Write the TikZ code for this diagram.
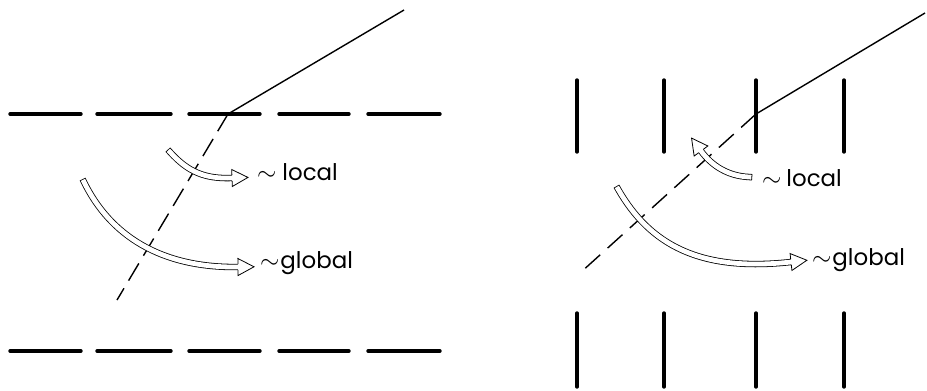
\documentclass[tikz,border=0pt]{standalone}
\usepackage{fontspec}
\setmainfont{Poppins}
\usetikzlibrary{arrows.meta,calc}
\tikzset{
  bound/.style={line width=3.4bp,line cap=round},
  ray/.style={line width=1.4bp},
  refr/.style={ray,dash pattern=on 20bp off #1},
  refr/.default=9bp,
  wide arrow/.style={double=white,double distance=4.8bp,line width=0.8bp,line cap=rect},
  tag/.style={anchor=base west,inner sep=0pt,font=\fontsize{23}{26}\selectfont},
  % open head for the wide arrows
  pics/hollow head/.style={code={
    \fill[white] (0,-2.8bp) -- (0,-8.5bp) -- (16bp,0) -- (0,8.5bp) -- (0,2.8bp) -- cycle;
    \draw[line width=0.8bp,line join=miter] (0,2.8bp) -- (0,8.5bp) -- (16bp,0) -- (0,-8.5bp) -- (0,-2.8bp);
  }},
}
\newcommand\widearrow[4]{%
  \draw[wide arrow] (#1) .. controls (#2) and (#3) .. (#4);
  \path (#1) .. controls (#2) and (#3) .. (#4) pic[pos=1,sloped,allow upside down]{hollow head};}
\newcommand\approxto[1]{$\sim$\hspace{#1}}

\begin{document}
\begin{tikzpicture}[x=1bp,y=-1bp]
  \useasboundingbox (0,0) rectangle (927,390);
  % layered medium, left
  \foreach \a/\b in {10/81,97/171,189/260,279/349,368/440} {
    \draw[bound] (\a,114) -- (\b,114);
    \draw[bound] (\a,351) -- (\b,351);
  }
  \coordinate (kinkL) at (228,114);
  \coordinate (farL) at (404,10);
  \coordinate (endL) at (117,300);
  \draw[ray] (kinkL) -- (farL);
  \draw[refr] (kinkL) -- (endL);
  \widearrow{170,152}{188,172}{205,179}{232,178}
  \widearrow{84,182}{110,235}{160,268}{238,267}
  \node[tag] (locL) at (257,180) {\approxto{6bp}local};
  \node[tag] (globL) at (260,268) {\approxto{1bp}global};
  % layered medium, right
  \foreach \x in {577,664,756,844} {
    \draw[bound] (\x,80) -- (\x,152);
    \draw[bound] (\x,313) -- (\x,387);
  }
  \coordinate (kinkR) at (756,114);
  \coordinate (farR) at (925,13);
  \coordinate (endR) at (580,273);
  \draw[ray] (kinkR) -- (farR);
  \draw[refr=10bp] (kinkR) -- (endR);
  \widearrow{749,177}{728,176}{712,166}{701,151}
  \widearrow{618,189}{650,245}{700,272}{791,262}
  \node[tag] (locR) at (762,186) {\approxto{5bp}local};
  \node[tag] (globR) at (812,265) {\approxto{1bp}global};
\end{tikzpicture}
\end{document}
